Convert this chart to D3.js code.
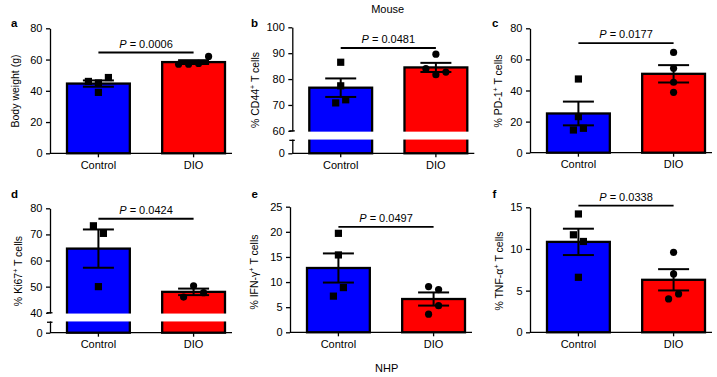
<!DOCTYPE html>
<html><head><meta charset="utf-8">
<script src="https://cdn.jsdelivr.net/npm/d3@7"></script>
<style>
body{margin:0;background:#fff}
svg{display:block}
text{font-family:"Liberation Sans",Arial,Helvetica,sans-serif;fill:#000}
</style>
</head><body>
<svg id="chart" width="717" height="377"></svg>
<script>
// ---------- DATA ----------
const categories = ["Control", "DIO"];
const panelLetters = ["a", "b", "c", "d", "e", "f"];
const yLabelMain = ["Body weight (g)", "% CD44", "% PD-1", "% Ki67", "% IFN-\u03b3", "% TNF-\u03b1"];
const yLabelSup = ["", "+", "+", "+", "+", "+"];
const yLabelTail = ["", " T cells", " T cells", " T cells", " T cells", " T cells"];
const controlValues = [
  [46, 45, 48.5, 39],
  [86.5, 77.4, 70.8, 72],
  [47.4, 23.2, 14.6, 15.7],
  [73.3, 70.4, 50],
  [19.7, 15.4, 7.2, 8.9],
  [14.2, 11.7, 10.9, 6.6]
];
const dioValues = [
  [57, 57, 57.5, 62],
  [89.6, 84, 81.7, 82.7],
  [64.5, 54.3, 45.3, 38.8],
  [46, 50.3, 47.7],
  [9.1, 8.5, 3.6, 5.3],
  [9.6, 7, 4.0, 4.6]
];
const yMax = [80, 100, 80, 80, 25, 15];
const yBreaks = [null, [5, 60], null, [4, 40], null, null];
const yTickValues = [
  [0, 20, 40, 60, 80],
  [0, 60, 70, 80, 90, 100],
  [0, 20, 40, 60, 80],
  [0, 40, 50, 60, 70, 80],
  [0, 5, 10, 15, 20, 25],
  [0, 5, 10, 15]
];
const pValues = ["0.0006", "0.0481", "0.0177", "0.0424", "0.0497", "0.0338"];
const pLineValues = [64.5, 92, 70.5, 76, 21, 15.2];
const groupTitles = ["Mouse", "NHP"];

// ---------- LAYOUT ----------
const layout = [
  {ax: 50,    y0: 153.3, top: 28.3,  letterX: 11,    labelX: 15.8,  labelY: 91},
  {ax: 292.3, y0: 153.3, top: 27.3,  letterX: 251,   labelX: 255,   labelY: 90},
  {ax: 530,   y0: 152.7, top: 28.3,  letterX: 492,   labelX: 498.3, labelY: 91},
  {ax: 50,    y0: 332.7, top: 208.3, letterX: 11,    labelX: 18.3,  labelY: 271},
  {ax: 290,   y0: 332.3, top: 206.7, letterX: 251.5, labelX: 254.7, labelY: 272},
  {ax: 530,   y0: 332.3, top: 207.3, letterX: 492.5, labelX: 499.5, labelY: 271}
];
const letterY = [26.6, 198.2];
const colors = {Control: "#0000ff", DIO: "#ff0000"};
const FONT = '"Liberation Sans",Arial,Helvetica,sans-serif';

const svg = d3.select("#chart");

function jitter(vals, y, thr, d) {
  const idx = vals.map((v, i) => i).sort((a, b) => vals[b] - vals[a]);
  const offs = new Array(vals.length).fill(0);
  let cluster = [idx[0]];
  const flush = () => {
    const c = cluster.slice().sort((a, b) => a - b);
    c.forEach((k, j) => offs[k] = (j - (c.length - 1) / 2) * d);
  };
  for (let i = 1; i < idx.length; i++) {
    if (Math.abs(y(vals[idx[i]]) - y(vals[idx[i - 1]])) < thr) cluster.push(idx[i]);
    else { flush(); cluster = [idx[i]]; }
  }
  flush();
  return offs;
}

layout.forEach((L, p) => {
  const g = svg.append("g");
  const row = p < 3 ? 0 : 1;
  // y scale
  let y;
  const br = yBreaks[p];
  const gap = 9.5;
  if (br) {
    const u = (L.y0 - L.top - gap) / (br[0] + yMax[p] - br[1]);
    const yl = L.y0 - br[0] * u;
    y = d3.scaleLinear().domain([0, br[0], br[1], yMax[p]]).range([L.y0, yl, yl - gap, L.top]);
  } else {
    y = d3.scaleLinear().domain([0, yMax[p]]).range([L.y0, L.top]);
  }
  const x = d3.scaleBand().domain(categories).range([L.ax + 17, L.ax + 175]).paddingInner(0.34);
  const bw = x.bandwidth();
  const groups = [controlValues[p], dioValues[p]];

  // bars
  categories.forEach((c, i) => {
    const m = d3.mean(groups[i]);
    g.append("rect")
      .attr("x", x(c)).attr("width", bw)
      .attr("y", y(m)).attr("height", y(0) - y(m))
      .attr("fill", colors[c]).attr("stroke", "#000").attr("stroke-width", 2.3);
  });

  // y axis
  const ya = g.append("g").attr("transform", `translate(${L.ax},0)`)
    .call(d3.axisLeft(y).tickValues(yTickValues[p]).tickSize(4).tickPadding(3.5).tickSizeOuter(0).tickFormat(d3.format("d")));
  ya.selectAll("path,line").attr("stroke", "#000").attr("stroke-width", 1.3);
  ya.selectAll("text").attr("font-family", FONT).attr("font-size", 11).attr("fill", "#000");

  // x axis
  g.append("line").attr("x1", L.ax).attr("x2", L.ax + 182).attr("y1", L.y0).attr("y2", L.y0)
    .attr("stroke", "#000").attr("stroke-width", 1.3);
  const xa = g.append("g").attr("transform", `translate(0,${L.y0})`)
    .call(d3.axisBottom(x).tickSize(4).tickPadding(3.7));
  xa.select(".domain").remove();
  xa.selectAll("line").attr("stroke", "#000").attr("stroke-width", 1.3);
  xa.selectAll("text").attr("font-family", FONT).attr("font-size", 11).attr("fill", "#000");

  // broken axis gap
  if (br) {
    const yb1 = y(br[1]), yb0 = y(br[0]);
    g.append("rect").attr("x", L.ax - 1.5).attr("width", 186)
      .attr("y", yb1 + 0.8).attr("height", yb0 - yb1 - 1.6).attr("fill", "#fff");
    [yb1, yb0].forEach(v => {
      g.append("line").attr("x1", L.ax - 3).attr("x2", L.ax + 2.5).attr("y1", v).attr("y2", v)
        .attr("stroke", "#000").attr("stroke-width", 1.3);
    });
  }

  // error bars + points
  categories.forEach((c, i) => {
    const vals = groups[i];
    const m = d3.mean(vals);
    const sem = d3.deviation(vals) / Math.sqrt(vals.length);
    const cx = x(c) + bw / 2;
    g.append("line").attr("x1", cx).attr("x2", cx).attr("y1", y(m - sem)).attr("y2", y(m + sem))
      .attr("stroke", "#000").attr("stroke-width", 2);
    [m - sem, m + sem].forEach(v => {
      g.append("line").attr("x1", cx - 15.5).attr("x2", cx + 15.5).attr("y1", y(v)).attr("y2", y(v))
        .attr("stroke", "#000").attr("stroke-width", 2);
    });
    const offs = jitter(vals, y, 9, 10);
    vals.forEach((v, k) => {
      if (i === 0) {
        g.append("rect").attr("x", cx + offs[k] - 3.6).attr("y", y(v) - 3.6)
          .attr("width", 7.2).attr("height", 7.2).attr("fill", "#000");
      } else {
        g.append("circle").attr("cx", cx + offs[k]).attr("cy", y(v)).attr("r", 3.6).attr("fill", "#000");
      }
    });
  });

  // P bracket
  const c0 = x(categories[0]) + bw / 2, c1 = x(categories[1]) + bw / 2;
  const py = y(pLineValues[p]);
  g.append("line").attr("x1", c0).attr("x2", c1).attr("y1", py).attr("y2", py)
    .attr("stroke", "#000").attr("stroke-width", 1.8);
  const pt = g.append("text").attr("x", (c0 + c1) / 2).attr("y", py - 5)
    .attr("text-anchor", "middle").attr("font-size", 11);
  pt.append("tspan").attr("font-style", "italic").text("P");
  pt.append("tspan").text(" = " + pValues[p]);

  // y label
  const yt = g.append("text").attr("transform", `translate(${L.labelX},${L.labelY}) rotate(-90)`)
    .attr("text-anchor", "middle").attr("dy", "0.35em").attr("font-size", 10.5);
  yt.append("tspan").text(yLabelMain[p]);
  if (yLabelSup[p]) {
    yt.append("tspan").attr("font-size", 7).attr("dy", -4).text(yLabelSup[p]);
    yt.append("tspan").attr("dy", 4).text(yLabelTail[p]);
  }

  // panel letter
  g.append("text").attr("x", L.letterX).attr("y", letterY[row])
    .attr("font-weight", "bold").attr("font-size", 11.5).text(panelLetters[p]);
});

svg.append("text").attr("x", 387.7).attr("y", 13.3).attr("text-anchor", "middle")
  .attr("font-size", 11).text(groupTitles[0]);
svg.append("text").attr("x", 386.7).attr("y", 371.7).attr("text-anchor", "middle")
  .attr("font-size", 11).text(groupTitles[1]);
</script>
</body></html>
